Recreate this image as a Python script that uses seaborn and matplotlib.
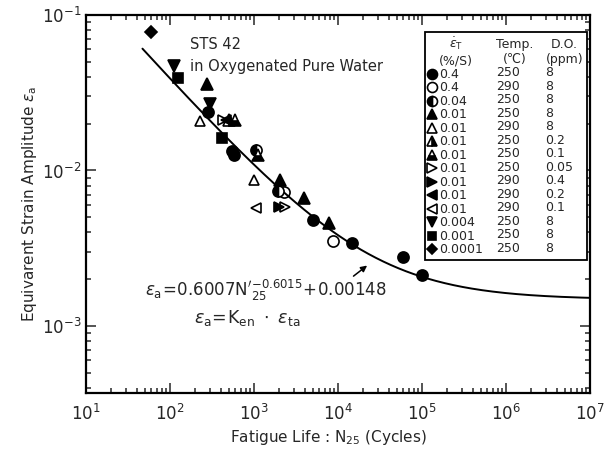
import numpy as np
import pandas as pd
import matplotlib
matplotlib.use("Agg")
import matplotlib.pyplot as plt
from matplotlib.lines import Line2D
import seaborn as sns

# ---- data -------------------------------------------------------------
rates = ["0.4", "0.4", "0.04", "0.01", "0.01", "0.01", "0.01", "0.01",
         "0.01", "0.01", "0.01", "0.004", "0.001", "0.0001"]
temps = ["250", "290", "250", "250", "290", "250", "250", "250",
         "290", "290", "290", "250", "250", "250"]
dos = ["8", "8", "8", "8", "8", "0.2", "0.1", "0.05",
       "0.4", "0.2", "0.1", "8", "8", "8"]

life = [
    [281, 573, 542, 5100, 14800, 59800, 100500],   # ● 0.4 250 8
    [2250, 8810],                                   # ○ 0.4 290 8
    [1045, 1905],                                   # ◐ 0.04 250 8
    [274, 2015, 3990, 7910],                        # ▲ 0.01 250 8
    [226, 988],                                     # △ 0.01 290 8
    [499],                                          # ▲ 0.01 250 0.2
    [589, 1104],                                    # ▲ 0.01 250 0.1
    [424, 2370],                                    # ▷ 0.01 250 0.05
    [1960],                                         # ▶ 0.01 290 0.4
    [460],                                          # ◀ 0.01 290 0.2
    [1045],                                         # ◁ 0.01 290 0.1
    [111, 297],                                     # ▼ 0.004 250 8
    [124, 412],                                     # ■ 0.001 250 8
    [59],                                           # ◆ 0.0001 250 8
]
strain = [
    [0.0238, 0.0126, 0.0133, 0.00481, 0.00342, 0.00278, 0.00213],
    [0.00728, 0.00352],
    [0.01355, 0.00738],
    [0.0360, 0.00869, 0.00665, 0.00459],
    [0.0208, 0.00869],
    [0.0211],
    [0.0211, 0.0126],
    [0.0211, 0.00582],
    [0.00582],
    [0.0211],
    [0.00574],
    [0.0470, 0.0268],
    [0.0394, 0.0162],
    [0.0778],
]

# fitted curve coefficients printed on the chart
fit_a, fit_b, fit_c = 0.6007, -0.6015, 0.00148
fit_start, fit_end = 47, 1e7

# ---- styles -----------------------------------------------------------
styles = [
    dict(marker="o", fillstyle="full"),
    dict(marker="o", fillstyle="none"),
    dict(marker="o", fillstyle="left"),
    dict(marker="^", fillstyle="full"),
    dict(marker="^", fillstyle="none"),
    dict(marker="^", fillstyle="right"),
    dict(marker="^", fillstyle="bottom"),
    dict(marker=">", fillstyle="none"),
    dict(marker=">", fillstyle="full"),
    dict(marker="<", fillstyle="full"),
    dict(marker="<", fillstyle="none"),
    dict(marker="v", fillstyle="full"),
    dict(marker="s", fillstyle="full"),
    dict(marker="D", fillstyle="full"),
]
sizes = [8, 8, 8, 8, 7.5, 8, 8, 7.5, 7.5, 7.5, 7.5, 8, 7, 6]

sns.set_style("ticks")
plt.rcParams["font.family"] = ["DejaVu Sans", "Noto Sans CJK JP"]
plt.rcParams["mathtext.fontset"] = "dejavusans"

fig = plt.figure(figsize=(6.13, 4.5), dpi=100)
ax = fig.add_axes([86 / 613, 1 - 393 / 450, (590 - 86) / 613, (393 - 15) / 450])

# curve
n_curve = np.logspace(np.log10(fit_start), np.log10(fit_end), 300)
curve = pd.DataFrame({"N": n_curve, "e": fit_a * n_curve ** fit_b + fit_c})
sns.lineplot(data=curve, x="N", y="e", ax=ax, color="black", lw=1.4,
             estimator=None, sort=False)

handles = []
for i in range(len(rates)):
    df = pd.DataFrame({"N": life[i], "e": strain[i]})
    kw = dict(styles[i], markersize=sizes[i], markeredgecolor="black",
              markerfacecolor="black", markerfacecoloralt="white",
              markeredgewidth=1.2)
    sns.lineplot(data=df, x="N", y="e", ax=ax, linestyle="none",
                 estimator=None, sort=False, **kw)
    handles.append(Line2D([], [], linestyle="none", **kw))

ax.set_xscale("log")
ax.set_yscale("log")
ax.set_xlim(1e1, 1e7)
ax.set_ylim(10 ** -3.431, 1e-1)
ax.set_xticks([10 ** k for k in range(1, 8)])
ax.set_yticks([1e-3, 1e-2, 1e-1])
ax.tick_params(which="both", direction="in", top=True, right=True,
               labelsize=12, width=1.1)
ax.tick_params(which="major", length=7)
ax.tick_params(which="minor", length=3.5)
ax.tick_params(axis="x", pad=8)
for s in ax.spines.values():
    s.set_linewidth(1.6)
    s.set_color("black")

ax.set_xlabel("Fatigue Life : N$_{25}$ (Cycles)", fontsize=11)
ax.set_ylabel(r"Equivarent Strain Amplitude $\varepsilon_{\rm a}$", fontsize=11,
              labelpad=2)
ax.xaxis.set_label_coords(0.48, -0.092)

ax.text(0.206, 0.921, "STS 42", transform=ax.transAxes, fontsize=10.5,
        va="center")
ax.text(0.206, 0.865, "in Oxygenated Pure Water", transform=ax.transAxes,
        fontsize=10.5, va="center")
ax.text(0.117, 0.272,
        r"$\varepsilon_{\rm a}\!=\!0.6007{\rm N'}^{-0.6015}_{25}\!+\!0.00148$",
        transform=ax.transAxes, fontsize=12, va="center")
ax.text(0.215, 0.198,
        r"$\varepsilon_{\rm a}\!=\!{\rm K}_{\rm en}\ \cdot\ \varepsilon_{\rm ta}$",
        transform=ax.transAxes, fontsize=12.5, va="center")
ax.annotate("", xy=(23600, 0.00251), xytext=(14400, 0.00204),
            arrowprops=dict(arrowstyle="-|>", color="black", lw=1.1,
                            mutation_scale=9))

# legend table
blank = Line2D([], [], linestyle="none", marker="None")
col1 = [blank] + handles
col23 = [blank] * 15
leg_handles = col1 + col23 + col23
leg_labels = ([r"$\dot{\varepsilon}_{\rm T}$" + "\n(%/S)"] + rates
              + ["Temp.\n(℃)"] + temps + ["D.O.\n(ppm)"] + dos)
leg = ax.legend(leg_handles, leg_labels, ncol=3, loc="upper right",
                bbox_to_anchor=(587 / 613, 1 - 32 / 450),
                bbox_transform=fig.transFigure, frameon=True, fancybox=False,
                framealpha=1, edgecolor="black", fontsize=9,
                handlelength=0.55, handletextpad=0.3, columnspacing=0.15,
                labelspacing=0.04, borderpad=0.3, borderaxespad=0,
                markerscale=0.9)
leg.get_frame().set_linewidth(1.3)
for t in leg.get_texts():
    if "\n" in t.get_text():
        t.set_multialignment("center")

fig.savefig("out.png", dpi=100)
